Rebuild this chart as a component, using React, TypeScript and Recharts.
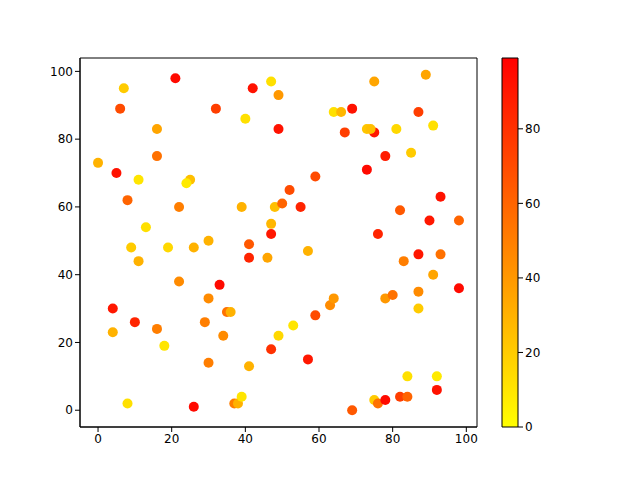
import {
  ScatterChart,
  Scatter,
  XAxis,
  YAxis,
  BarChart,
  Bar,
  ReferenceArea,
} from "recharts";

// scatter point x, y and colour value
const xs = [
  21, 7, 6, 32, 42, 47, 49, 40, 49, 16, 16, 0, 5, 11, 25, 24, 8, 22, 39, 13,
  9, 19, 26, 30, 11, 41, 41, 46, 47, 47, 48, 50, 52, 55, 59, 57, 22, 33, 4, 10,
  4, 16, 18, 29, 30, 35, 36, 30, 34, 8, 26, 37, 38, 39, 41, 47, 49, 53, 57, 59,
  63, 64, 69, 75, 76, 78, 82, 84, 84, 92, 92, 87, 87, 78, 80, 83, 87, 93, 91, 98,
  76, 98, 90, 82, 93, 85, 78, 73, 67, 75, 73, 74, 81, 91, 87, 69, 64, 66, 75, 89,
];
const ys = [
  98, 95, 89, 89, 95, 97, 93, 86, 83, 83, 75, 73, 70, 68, 68, 67, 62, 60, 60, 54,
  48, 48, 48, 50, 44, 49, 45, 45, 52, 55, 60, 61, 65, 60, 69, 47, 38, 37, 30, 26,
  23, 24, 19, 26, 33, 29, 29, 14, 22, 2, 1, 2, 2, 4, 13, 18, 22, 25, 15, 28,
  31, 33, 0, 3, 2, 3, 4, 4, 10, 10, 6, 30, 35, 33, 34, 44, 46, 46, 40, 36,
  52, 56, 56, 59, 63, 76, 75, 71, 82, 82, 83, 83, 83, 84, 88, 89, 88, 88, 97, 99,
];
const cs = [
  95, 20, 70, 75, 92, 12, 40, 12, 92, 35, 55, 30, 92, 10, 25, 8, 60, 50, 30, 12,
  20, 15, 30, 30, 30, 65, 85, 35, 90, 28, 25, 60, 70, 85, 70, 30, 45, 95, 90, 85,
  30, 50, 10, 50, 45, 55, 30, 50, 45, 12, 95, 50, 30, 10, 30, 80, 15, 10, 90, 70,
  45, 40, 65, 20, 55, 95, 75, 60, 12, 8, 92, 20, 45, 40, 55, 50, 90, 55, 35, 95,
  85, 60, 90, 65, 92, 20, 88, 95, 75, 90, 22, 25, 15, 12, 75, 92, 12, 28, 35, 35,
];

const axisTicks = [0, 20, 40, 60, 80, 100];
const cbarTicks = [0, 20, 40, 60, 80];
const cMin = 0;
const cMax = 99;
const xDomain: [number, number] = [-4.9, 102.9];
const yDomain: [number, number] = [-4.95, 103.95];

const points = xs.map((x, i) => ({ x, y: ys[i], c: cs[i] }));

// matplotlib autumn_r: yellow at low values, red at high
const autumnR = (v: number) => {
  const t = Math.min(1, Math.max(0, (v - cMin) / (cMax - cMin)));
  return `rgb(255, ${Math.round(255 * (1 - t))}, 0)`;
};

const tickStyle = { fontFamily: "DejaVu Sans", fontSize: 12, fill: "#000" };

const Dot = (props: any) => (
  <circle cx={props.cx} cy={props.cy} r={5} fill={autumnR(props.payload.c)} />
);

export default function App() {
  return (
    <div style={{ position: "absolute", left: 0, top: 0, width: 640, height: 480, background: "#fff" }}>
      <div style={{ position: "absolute", left: 0, top: 0 }}>
        <ScatterChart
          width={640}
          height={480}
          margin={{ top: 58, right: 163, bottom: 23, left: 40 }}
        >
          <XAxis
            type="number"
            dataKey="x"
            domain={xDomain}
            ticks={axisTicks}
            height={30}
            tick={tickStyle}
            stroke="#000"
            tickSize={5}
            allowDataOverflow
          />
          <YAxis
            type="number"
            dataKey="y"
            domain={yDomain}
            ticks={axisTicks}
            width={40}
            tick={tickStyle}
            stroke="#000"
            tickSize={5}
            allowDataOverflow
          />
          {/* frame round the axes, like matplotlib's spines */}
          <ReferenceArea
            x1={xDomain[0]}
            x2={xDomain[1]}
            y1={yDomain[0]}
            y2={yDomain[1]}
            fill="none"
            stroke="#000"
            strokeOpacity={1}
            strokeWidth={1}
          />
          <Scatter data={points} shape={Dot} isAnimationActive={false} />
        </ScatterChart>
      </div>
      <div style={{ position: "absolute", left: 480, top: 0 }}>
        <BarChart
          width={160}
          height={480}
          data={[{ name: "c", v: cMax }]}
          margin={{ top: 58, right: 82, bottom: 53, left: 22 }}
          barCategoryGap={0}
        >
          <defs>
            <linearGradient id="cbar" x1="0" y1="0" x2="0" y2="1">
              <stop offset="0%" stopColor={autumnR(cMax)} />
              <stop offset="100%" stopColor={autumnR(cMin)} />
            </linearGradient>
          </defs>
          <XAxis dataKey="name" hide />
          <YAxis
            orientation="right"
            type="number"
            domain={[cMin, cMax]}
            ticks={cbarTicks}
            width={40}
            axisLine={false}
            tick={tickStyle}
            tickLine={{ stroke: "#000" }}
            tickSize={5}
          />
          <Bar
            dataKey="v"
            fill="url(#cbar)"
            stroke="#000"
            strokeWidth={1}
            isAnimationActive={false}
          />
        </BarChart>
      </div>
    </div>
  );
}
